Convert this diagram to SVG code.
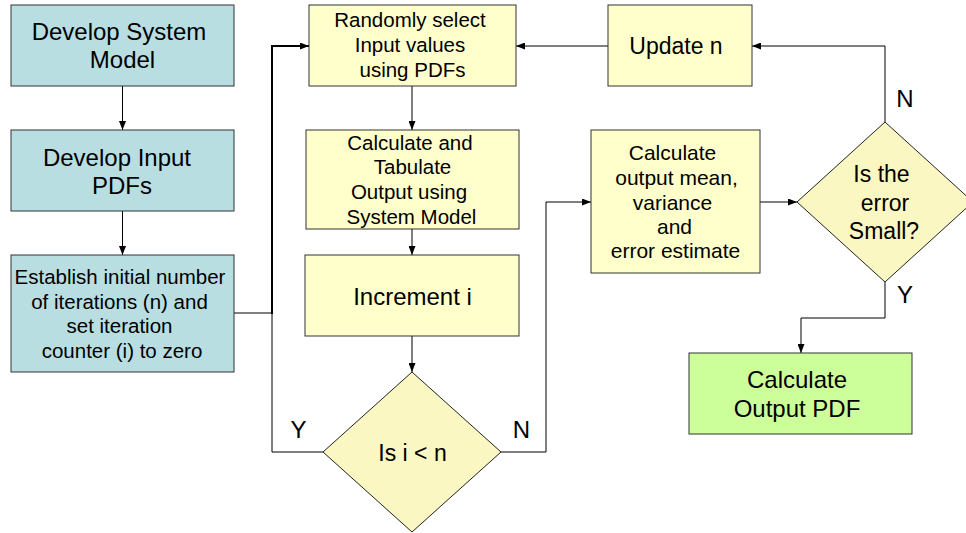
<svg xmlns="http://www.w3.org/2000/svg" width="966" height="533" viewBox="0 0 966 533">
  <style>
    .teal { fill: #B8DEE2; stroke: #333333; stroke-width: 1; }
    .yel { fill: #FFFFCC; stroke: #333333; stroke-width: 1; }
    .grn { fill: #CCFF99; stroke: #333333; stroke-width: 1; }
    .dia { fill: #FAF7C2; stroke: #222222; stroke-width: 1; }
    text { font-family: "Liberation Sans", Arial, sans-serif; fill: #000000; text-anchor: middle; }
    .big { font-size: 24px; }
    .mid { font-size: 23px; }
    .sm { font-size: 20.5px; }
    .c21 { font-size: 21px; }
    .conn { fill: none; stroke: #000000; stroke-width: 1; }
    .thick { stroke-width: 2; }
  </style>
  <defs>
    <marker id="arr" markerUnits="userSpaceOnUse" markerWidth="9" markerHeight="7" refX="9" refY="3.5" orient="auto">
      <path d="M0,0 L9,3.5 L0,7 z" fill="#000000"/>
    </marker>
  </defs>
  <rect x="0" y="0" width="966" height="533" fill="#FFFFFF"/>

  <g id="connectors">
    <path class="conn" d="M122.5,86 V130" marker-end="url(#arr)"/>
    <path class="conn" d="M122.5,211 V255" marker-end="url(#arr)"/>
    <path class="conn" d="M234,313 H272"/>
    <path class="conn" d="M323,452 H272 V313"/>
    <path class="conn thick" d="M272,314 V46 H309" marker-end="url(#arr)"/>
    <path class="conn" d="M412,86 V130" marker-end="url(#arr)"/>
    <path class="conn" d="M412,229 V255" marker-end="url(#arr)"/>
    <path class="conn" d="M412,336 V372" marker-end="url(#arr)"/>
    <path class="conn" d="M501,452 H546 V202 H591" marker-end="url(#arr)"/>
    <path class="conn" d="M760,202 H797" marker-end="url(#arr)"/>
    <path class="conn" d="M885,122 V46 H752" marker-end="url(#arr)"/>
    <path class="conn" d="M608,46 H516" marker-end="url(#arr)"/>
    <path class="conn" d="M885,282 V318 H801 V353" marker-end="url(#arr)"/>
    <text class="big" x="298.5" y="438">Y</text>
    <text class="big" x="521.5" y="438">N</text>
    <text class="big" x="905" y="107">N</text>
    <text class="big" x="905" y="303">Y</text>
  </g>

  <g id="develop-system-model">
    <rect class="teal" x="11" y="5" width="223" height="81"/>
    <text class="big" x="119" y="40">Develop System</text>
    <text class="big" x="122.5" y="68">Model</text>
  </g>

  <g id="develop-input-pdfs">
    <rect class="teal" x="11" y="130" width="223" height="81"/>
    <text class="big" x="117" y="166">Develop Input</text>
    <text class="big" x="122" y="194">PDFs</text>
  </g>

  <g id="establish">
    <rect class="teal" x="11" y="255" width="223" height="117"/>
    <text class="sm" x="120" y="284">Establish initial number</text>
    <text class="sm" x="119.5" y="309">of iterations (n) and</text>
    <text class="sm" x="119.5" y="333">set iteration</text>
    <text class="sm" x="122" y="358">counter (i) to zero</text>
  </g>

  <g id="randomly-select">
    <rect class="yel" x="309" y="5" width="207" height="81"/>
    <text class="sm" x="410" y="27">Randomly select</text>
    <text class="sm" x="410" y="52">Input values</text>
    <text class="sm" x="412.5" y="77">using PDFs</text>
  </g>

  <g id="calculate-tabulate">
    <rect class="yel" x="306" y="130" width="213" height="99"/>
    <text class="sm" x="410" y="150">Calculate and</text>
    <text class="sm" x="412.5" y="174">Tabulate</text>
    <text class="sm" x="409" y="199">Output using</text>
    <text class="sm" x="411.5" y="224">System Model</text>
  </g>

  <g id="increment-i">
    <rect class="yel" x="305" y="255" width="214" height="81"/>
    <text class="big" x="412.5" y="305">Increment i</text>
  </g>

  <g id="is-i-less-n">
    <polygon class="dia" points="412,372 501,452 412,532 323,452"/>
    <text class="mid" x="412.5" y="461">Is i &lt; n</text>
  </g>

  <g id="update-n">
    <rect class="yel" x="608" y="5" width="144" height="81"/>
    <text class="mid" x="676" y="54">Update n</text>
  </g>

  <g id="calc-output-mean">
    <rect class="yel" x="591" y="130" width="169" height="143"/>
    <text class="c21" x="672.5" y="160">Calculate</text>
    <text class="c21" x="676.5" y="185">output mean,</text>
    <text class="c21" x="672.5" y="210">variance</text>
    <text class="c21" x="674.5" y="234">and</text>
    <text class="c21" x="675.5" y="258">error estimate</text>
  </g>

  <g id="is-error-small">
    <polygon class="dia" points="885,122 973,202 885,282 797,202"/>
    <text class="mid" x="881.5" y="182">Is the</text>
    <text class="mid" x="885" y="211">error</text>
    <text class="mid" x="884" y="239">Small?</text>
  </g>

  <g id="calc-output-pdf">
    <rect class="grn" x="689" y="353" width="223" height="81"/>
    <text class="big" x="797" y="388">Calculate</text>
    <text class="big" x="797" y="417">Output PDF</text>
  </g>
</svg>
